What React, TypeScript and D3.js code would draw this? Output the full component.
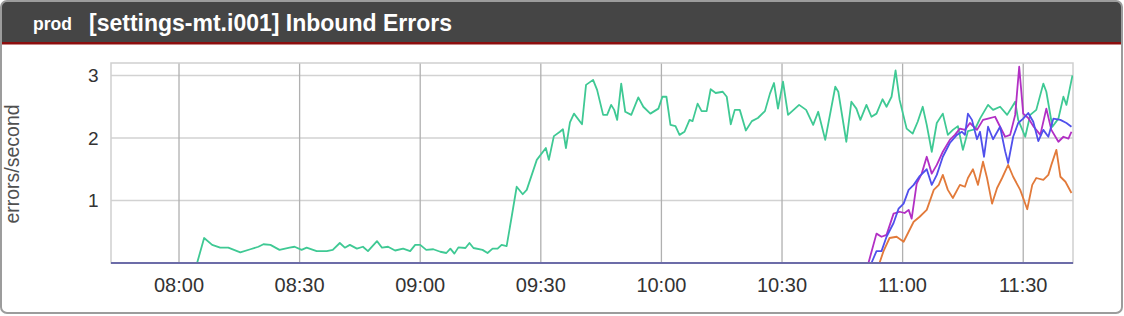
import React from "react";
import * as d3 from "d3";

// ---------- data ----------
const headerTag = "prod";
const chartTitle = "[settings-mt.i001] Inbound Errors";
const yAxisLabel = "errors/second";
const yTickValues = [1, 2, 3];
const yDomain = [0, 3.2];
const xTickLabels = ["08:00", "08:30", "09:00", "09:30", "10:00", "10:30", "11:00", "11:30"];
const timeDomain = ["07:43:05", "11:42:23"];

const greenSeries: [string, number][] = [
  ["07:43:00", 0], ["08:04:30", 0], ["08:06:15", 0.4], ["08:08:15", 0.29], ["08:10:15", 0.245], ["08:12:15", 0.245],
  ["08:15:15", 0.17], ["08:17:45", 0.22], ["08:19:45", 0.26], ["08:21:00", 0.3], ["08:22:45", 0.29],
  ["08:25:00", 0.21], ["08:27:30", 0.245], ["08:28:45", 0.26], ["08:30:30", 0.21], ["08:31:45", 0.245],
  ["08:34:15", 0.19], ["08:36:45", 0.19], ["08:38:15", 0.21], ["08:40:00", 0.32], ["08:41:15", 0.245],
  ["08:42:30", 0.29], ["08:44:15", 0.23], ["08:45:45", 0.26], ["08:47:00", 0.19], ["08:49:15", 0.35],
  ["08:50:30", 0.245], ["08:52:00", 0.26], ["08:53:45", 0.2], ["08:55:45", 0.23], ["08:57:30", 0.19],
  ["08:58:45", 0.29], ["09:00:00", 0.29], ["09:01:30", 0.21], ["09:03:15", 0.22], ["09:05:00", 0.18],
  ["09:06:30", 0.16], ["09:07:30", 0.23], ["09:08:30", 0.15], ["09:09:30", 0.25], ["09:11:15", 0.24],
  ["09:12:15", 0.32], ["09:13:15", 0.24], ["09:15:30", 0.21], ["09:16:45", 0.16], ["09:18:00", 0.23],
  ["09:19:15", 0.23], ["09:20:15", 0.29], ["09:21:30", 0.27], ["09:22:45", 0.74], ["09:24:00", 1.22],
  ["09:25:30", 1.1], ["09:26:30", 1.17], ["09:29:00", 1.65], ["09:31:15", 1.84], ["09:32:00", 1.65],
  ["09:33:15", 2.03], ["09:34:45", 2.1], ["09:35:30", 2.14], ["09:36:15", 1.84], ["09:37:15", 2.25],
  ["09:38:15", 2.39], ["09:40:15", 2.22], ["09:41:15", 2.85], ["09:43:00", 2.93], ["09:44:00", 2.77],
  ["09:45:30", 2.37], ["09:46:30", 2.37], ["09:47:30", 2.53], ["09:48:15", 2.45], ["09:49:00", 2.29],
  ["09:50:00", 2.87], ["09:51:00", 2.42], ["09:52:30", 2.37], ["09:54:15", 2.65], ["09:55:30", 2.5],
  ["09:57:15", 2.39], ["09:59:15", 2.47], ["10:00:15", 2.66], ["10:01:15", 2.66], ["10:02:15", 2.21],
  ["10:03:30", 2.19], ["10:04:30", 2.05], ["10:05:45", 2.1], ["10:07:00", 2.29], ["10:07:45", 2.27],
  ["10:09:00", 2.55], ["10:10:00", 2.43], ["10:11:15", 2.43], ["10:12:15", 2.78], ["10:13:30", 2.72],
  ["10:15:15", 2.74], ["10:16:15", 2.66], ["10:17:15", 2.22], ["10:18:15", 2.45], ["10:19:30", 2.45],
  ["10:21:00", 2.12], ["10:22:30", 2.27], ["10:24:00", 2.32], ["10:25:45", 2.43], ["10:27:00", 2.71],
  ["10:28:00", 2.88], ["10:29:00", 2.47], ["10:30:15", 2.9], ["10:31:30", 2.37], ["10:34:15", 2.53],
  ["10:36:00", 2.45], ["10:37:45", 2.21], ["10:39:00", 2.42], ["10:40:45", 1.97], ["10:43:15", 2.82],
  ["10:44:00", 2.74], ["10:46:00", 1.94], ["10:47:15", 2.58], ["10:48:30", 2.47], ["10:49:30", 2.29],
  ["10:51:00", 2.53], ["10:52:15", 2.34], ["10:53:30", 2.39], ["10:55:00", 2.62], ["10:56:00", 2.5],
  ["10:57:15", 2.66], ["10:58:15", 3.08], ["10:59:15", 2.61], ["11:01:00", 2.15], ["11:02:30", 2.07],
  ["11:03:45", 2.26], ["11:05:00", 2.5], ["11:06:00", 2.21], ["11:07:15", 1.78], ["11:08:30", 2.24],
  ["11:10:00", 2.39], ["11:11:15", 2.05], ["11:12:30", 2.13], ["11:13:45", 2.19], ["11:15:00", 1.81],
  ["11:16:15", 2.11], ["11:18:00", 2.14], ["11:19:15", 2.31], ["11:21:15", 2.53], ["11:22:30", 2.45],
  ["11:24:15", 2.5], ["11:26:00", 2.37], ["11:27:15", 2.5], ["11:28:00", 2.58], ["11:28:45", 2.29],
  ["11:30:30", 2.02], ["11:31:45", 2.37], ["11:33:15", 2.45], ["11:35:00", 2.87], ["11:35:45", 2.74],
  ["11:37:15", 2.18], ["11:38:45", 2.31], ["11:40:00", 2.66], ["11:40:45", 2.53], ["11:42:15", 3.0],
];

const orangeSeries: [string, number][] = [
  ["07:43:00", 0], ["10:54:15", 0], ["10:55:15", 0.19], ["10:56:45", 0.4], ["10:58:30", 0.42],
  ["11:00:15", 0.34], ["11:01:30", 0.5], ["11:02:45", 0.66], ["11:04:15", 0.74], ["11:06:00", 0.85],
  ["11:07:45", 1.17], ["11:09:00", 1.25], ["11:10:00", 1.41], ["11:11:15", 1.17], ["11:12:30", 1.04],
  ["11:14:15", 1.25], ["11:15:30", 1.22], ["11:16:15", 1.36], ["11:17:30", 1.5], ["11:18:45", 1.25],
  ["11:20:00", 1.62], ["11:21:00", 1.36], ["11:22:15", 0.95], ["11:23:30", 1.2], ["11:24:45", 1.36],
  ["11:26:15", 1.57], ["11:27:30", 1.38], ["11:29:15", 1.17], ["11:31:00", 0.86], ["11:32:15", 1.25],
  ["11:33:15", 1.36], ["11:35:00", 1.33], ["11:36:15", 1.41], ["11:37:00", 1.57], ["11:38:15", 1.81],
  ["11:39:15", 1.38], ["11:40:30", 1.3], ["11:42:00", 1.12],
];

const magentaSeries: [string, number][] = [
  ["07:43:00", 0], ["10:51:30", 0], ["10:53:30", 0.47], ["10:54:45", 0.42], ["10:56:00", 0.45],
  ["10:57:45", 0.79], ["10:59:15", 0.82], ["11:00:30", 0.8], ["11:01:30", 0.85], ["11:02:15", 0.71],
  ["11:03:30", 1.27], ["11:04:45", 1.43], ["11:06:00", 1.7], ["11:07:15", 1.43], ["11:08:30", 1.57],
  ["11:10:00", 1.78], ["11:11:45", 1.97], ["11:13:00", 2.05], ["11:14:15", 2.15], ["11:15:30", 2.13],
  ["11:16:45", 2.24], ["11:18:30", 2.13], ["11:20:00", 2.29], ["11:21:15", 2.31], ["11:23:00", 2.34],
  ["11:24:15", 2.18], ["11:25:30", 2.02], ["11:26:45", 2.05], ["11:28:00", 2.37], ["11:29:00", 3.14],
  ["11:30:00", 2.39], ["11:31:15", 2.32], ["11:32:30", 2.19], ["11:34:15", 2.05], ["11:35:45", 2.47],
  ["11:37:00", 2.13], ["11:38:45", 1.94], ["11:40:00", 2.02], ["11:41:15", 1.99], ["11:42:00", 2.1],
];

const blueSeries: [string, number][] = [
  ["07:43:00", 0], ["10:52:15", 0], ["10:53:30", 0.19], ["10:54:45", 0.19], ["10:56:00", 0.42],
  ["10:57:45", 0.64], ["10:59:00", 0.87], ["11:00:15", 0.95], ["11:01:30", 1.17], ["11:02:45", 1.25],
  ["11:04:15", 1.39], ["11:06:00", 1.5], ["11:07:15", 1.25], ["11:08:30", 1.41], ["11:10:00", 1.7],
  ["11:11:45", 1.92], ["11:13:30", 2.05], ["11:14:45", 2.1], ["11:15:30", 2.05], ["11:16:15", 2.39],
  ["11:17:15", 2.29], ["11:18:30", 1.98], ["11:19:15", 2.1], ["11:20:15", 1.7], ["11:21:15", 2.18],
  ["11:22:30", 1.98], ["11:24:15", 2.18], ["11:25:30", 1.79], ["11:26:15", 1.6], ["11:27:30", 2.02],
  ["11:28:45", 2.24], ["11:30:00", 2.31], ["11:31:15", 2.4], ["11:32:30", 2.26], ["11:33:45", 1.95],
  ["11:35:00", 2.13], ["11:36:15", 2.02], ["11:37:30", 2.31], ["11:39:15", 2.29], ["11:40:45", 2.24],
  ["11:42:00", 2.18],
];

const idleSeries: [string, number][] = [["07:43:00", 0], ["11:43:00", 0]];

const seriesList = [
  { name: "green", data: greenSeries, color: "#3fc994" },
  { name: "orange", data: orangeSeries, color: "#e27a3a" },
  { name: "magenta", data: magentaSeries, color: "#b22fc4" },
  { name: "blue", data: blueSeries, color: "#5050ec" },
  { name: "idle", data: idleSeries, color: "#6c6ca8" },
];

// ---------- helpers ----------
const parseClock = (s: string) => {
  const [h, m, sec] = s.split(":").map(Number);
  return new Date(2020, 0, 1, h, m, sec || 0);
};

const W = 1124;
const H = 316;
const plot = { left: 111, right: 1073, top: 63, bottom: 263 };
const FONT = "'Liberation Sans', Arial, Helvetica, sans-serif";

export default function App() {
  const x = d3
    .scaleTime()
    .domain(timeDomain.map(parseClock) as [Date, Date])
    .range([plot.left, plot.right]);
  const y = d3.scaleLinear().domain(yDomain).range([plot.bottom, plot.top]);

  const line = d3
    .line<[string, number]>()
    .x((d) => x(parseClock(d[0])))
    .y((d) => y(d[1]));

  return (
    <svg
      width={W}
      height={H}
      style={{ position: "absolute", left: 0, top: 0, display: "block" }}
      fontFamily={FONT}
    >
      <defs>
        <clipPath id="panelClip">
          <rect x={1} y={1} width={1121} height={312} rx={6} ry={6} />
        </clipPath>
        <clipPath id="plotClip">
          <rect x={plot.left} y={plot.top - 2} width={plot.right - plot.left} height={plot.bottom - plot.top + 4} />
        </clipPath>
      </defs>
      <rect x={0} y={0} width={W} height={H} fill="#ffffff" />
      <g clipPath="url(#panelClip)">
        <rect x={0} y={0} width={W} height={H} fill="#ffffff" />
        <rect x={0} y={0} width={W} height={42} fill="#454545" />
        <rect x={0} y={42} width={W} height={2.5} fill="#8c0e0e" />
      </g>
      <rect x={1} y={1} width={1121} height={312} rx={6} ry={6} fill="none" stroke="#9c9c9c" strokeWidth={2} />

      <text x={33} y={30} fill="#ffffff" fontSize={17.5} fontWeight="bold">
        {headerTag}
      </text>
      <text x={89} y={30.5} fill="#ffffff" fontSize={23} fontWeight="bold">
        {chartTitle}
      </text>

      {/* grid */}
      <g>
        {yTickValues.map((v) => (
          <line key={"h" + v} x1={plot.left} x2={plot.right} y1={y(v)} y2={y(v)} stroke="#d2d2d2" strokeWidth={1.5} />
        ))}
        {xTickLabels.map((t) => (
          <line
            key={"v" + t}
            x1={x(parseClock(t))}
            x2={x(parseClock(t))}
            y1={plot.top}
            y2={plot.bottom}
            stroke="#b0b0b0"
            strokeWidth={1.3}
          />
        ))}
        <rect
          x={plot.left}
          y={plot.top}
          width={plot.right - plot.left}
          height={plot.bottom - plot.top}
          fill="none"
          stroke="#cfcfcf"
          strokeWidth={1.5}
        />
      </g>

      {/* series */}
      <g clipPath="url(#plotClip)">
        {seriesList.map((s) => (
          <path
            key={s.name}
            d={line(s.data) || ""}
            fill="none"
            stroke={s.color}
            strokeWidth={1.8}
            strokeLinejoin="round"
          />
        ))}
      </g>

      {/* y ticks */}
      {yTickValues.map((v) => (
        <text key={"yt" + v} x={98.5} y={y(v)} dy="0.36em" textAnchor="end" fontSize={19} fill="#333">
          {v}
        </text>
      ))}
      {/* x ticks */}
      {xTickLabels.map((t) => (
        <text key={"xt" + t} x={x(parseClock(t))} y={291.5} textAnchor="middle" fontSize={20} fill="#333">
          {t}
        </text>
      ))}
      <text
        transform={`translate(19, ${(plot.top + plot.bottom) / 2 + 1}) rotate(-90)`}
        textAnchor="middle"
        fontSize={19.5}
        fill="#505050"
      >
        {yAxisLabel}
      </text>
    </svg>
  );
}
